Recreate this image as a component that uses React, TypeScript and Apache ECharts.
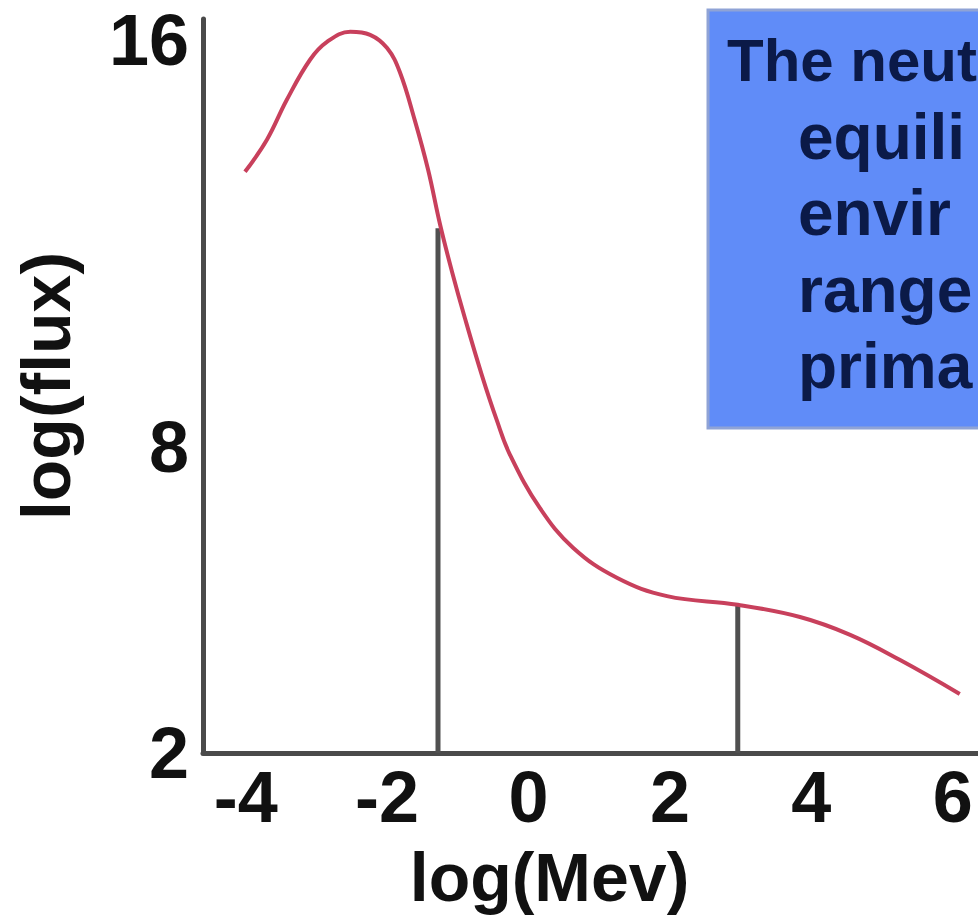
import React, { useEffect, useRef } from "react";
import * as echarts from "echarts";

// log(Mev) positions of the curve samples
const energyLog = [
  -4.01, -3.7, -3.42, -3.09, -2.85, -2.52, -2.24, -2.0, -1.82, -1.61, -1.42, -1.25, -1.08,
  -0.9, -0.66, -0.45, -0.26, 0.16, 0.63, 1.25, 1.96, 2.96, 3.84, 4.55, 5.25, 6.1,
];
// log(flux) values of the curve samples
const fluxLog = [
  13.41, 14.04, 14.82, 15.61, 15.96, 16.16, 16.1, 15.84, 15.37, 14.43, 13.45, 12.37, 11.44,
  10.54, 9.42, 8.54, 7.85, 6.81, 6.03, 5.44, 5.08, 4.91, 4.67, 4.32, 3.83, 3.16,
];
const xTicks = [-4, -2, 0, 2, 4, 6];
const yTicks = [2, 8, 16];
// vertical marker lines: energy position and height where they meet the curve
const markerEnergy = [-1.28, 2.96];
const markerFlux = [12.3, 4.91];
// note box text (cut off at the right edge of the figure)
const noteLines = ["The neutron flux", "equilibrium", "environment", "range", "primarily"];

const FONT = "'Liberation Sans', Arial, sans-serif";
const W = 978;

export default function App() {
  const ref = useRef<HTMLDivElement>(null);
  useEffect(() => {
    document.body.style.margin = "0";
    const chart = echarts.init(ref.current!, null, { renderer: "svg" });
    const markerSeries = markerEnergy.map((x, i) => ({
      type: "line",
      data: [
        [x, yTicks[0]],
        [x, markerFlux[i]],
      ],
      symbol: "none",
      lineStyle: { color: "#505050", width: 5 },
      z: 2,
      silent: true,
    }));
    chart.setOption({
      animation: false,
      backgroundColor: "#ffffff",
      grid: { left: 203, right: 0, top: 19, bottom: 162, containLabel: false, outerBoundsMode: "none" },
      xAxis: {
        type: "value",
        min: -4.604,
        max: 6.358,
        name: "log(Mev)",
        nameLocation: "middle",
        nameGap: 90,
        nameTextStyle: {
          fontSize: 68,
          fontWeight: "bold",
          fontFamily: FONT,
          color: "#111",
          padding: [0, 82, 0, 0],
        },
        axisLine: { show: true, onZero: false, lineStyle: { color: "#4a4a4a", width: 5 } },
        axisTick: { show: false },
        splitLine: { show: false },
        axisLabel: {
          customValues: xTicks,
          fontSize: 72,
          fontWeight: "bold",
          fontFamily: FONT,
          color: "#111",
          margin: 8,
        },
      },
      yAxis: {
        type: "value",
        min: 2,
        max: 16.41,
        name: "log(flux)",
        nameLocation: "middle",
        nameGap: 123,
        nameTextStyle: {
          fontSize: 68,
          fontWeight: "bold",
          fontFamily: FONT,
          color: "#111",
        },
        axisLine: { show: true, onZero: false, lineStyle: { color: "#4a4a4a", width: 5 } },
        axisTick: { show: false },
        splitLine: { show: false },
        axisLabel: {
          customValues: yTicks,
          fontSize: 72,
          fontWeight: "bold",
          fontFamily: FONT,
          color: "#111",
          margin: 14,
        },
      },
      series: [
        ...markerSeries,
        {
          type: "line",
          data: energyLog.map((x, i) => [x, fluxLog[i]]),
          smooth: 0.4,
          symbol: "none",
          lineStyle: { color: "#c8405c", width: 4 },
          z: 3,
          silent: true,
        },
      ],
      graphic: [
        {
          type: "rect",
          shape: { x: 708, y: 10, width: 300, height: 418 },
          style: { fill: "#608cf8", stroke: "#8fa3d6", lineWidth: 3 },
          z: 10,
        },
        ...noteLines.map((t, i) => {
          const x = i === 0 ? 727 : 798;
          return {
            type: "text",
            x,
            y: 60 + i * 76.5,
            style: {
              text: t,
              fontSize: i === 0 ? 60 : 64,
              fontWeight: "bold",
              fontFamily: FONT,
              fill: "#0b1a48",
              verticalAlign: "middle",
              align: "left",
              width: W - x,
              overflow: "truncate",
              ellipsis: "",
            },
            z: 11,
          };
        }),
      ],
    });
    return () => chart.dispose();
  }, []);
  return <div ref={ref} style={{ position: "fixed", left: 0, top: 0, width: W, height: 915 }} />;
}
